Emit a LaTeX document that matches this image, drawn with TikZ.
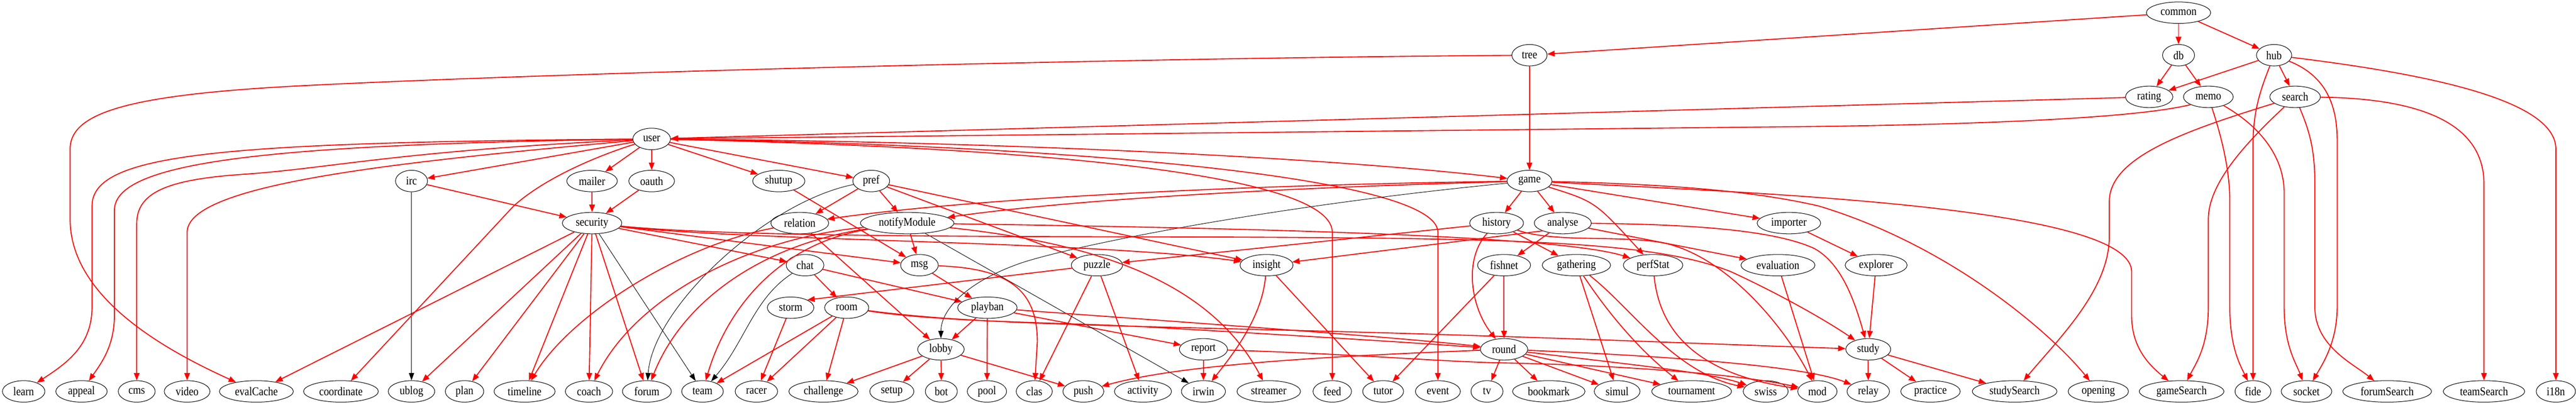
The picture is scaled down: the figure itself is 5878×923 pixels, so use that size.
\documentclass[tikz,border=0pt]{standalone}
\usepackage{fontspec}
\setmainfont{Liberation Serif}[FakeStretch=0.87]
\usetikzlibrary{arrows.meta,shapes.geometric}

\tikzset{
  pkg/.style={ellipse, draw, line width=0.6pt, minimum height=24.5pt, minimum width=36.5pt,
    inner xsep=5.4pt, inner ysep=0pt, font=\fontsize{13.5}{14}\selectfont},
  dep/.style={draw=red, line width=1.1pt, -{Triangle[length=8.5pt,width=6.5pt]}},
  weakdep/.style={draw=black, line width=0.55pt, -{Triangle[length=8.5pt,width=6pt]}},
}

\begin{document}
\begin{tikzpicture}[x=0.5pt,y=-0.5pt]
\useasboundingbox (0,0) rectangle (5878,923);

% top rows
\node[pkg] (common) at (4971,29) {common};
\foreach \n/\x in {tree/3490, db/4971, hub/5189} \node[pkg] (\n) at (\x,126) {\n};
\foreach \n/\x in {rating/4904, memo/5039, search/5237} \node[pkg] (\n) at (\x,221) {\n};
\node[pkg] (user) at (1487,317) {user};
\foreach \n/\x in {irc/939, mailer/1351, oauth/1487, shutup/1777, pref/1988, game/3490}
  \node[pkg] (\n) at (\x,413) {\n};
\foreach \n/\x in {security/1351, relation/1825, notifyModule/2070, history/3415, analyse/3566, importer/4082}
  \node[pkg] (\n) at (\x,509) {\n};
\foreach \n/\x in {chat/1837, msg/2098, puzzle/2503, insight/2890, fishnet/3432, gathering/3597,
  perfStat/3772, evaluation/4057, explorer/4281}
  \node[pkg] (\n) at (\x,605) {\n};
\foreach \n/\x in {storm/1804, room/1932, playban/2253} \node[pkg] (\n) at (\x,702) {\n};
\foreach \n/\x in {lobby/2147, report/2746, round/3432, study/4263} \node[pkg] (\n) at (\x,797) {\n};

% bottom row
\foreach \n/\x in {learn/54, appeal/186, cms/312, video/427, evalCache/585, coordinate/778, ublog/939,
  plan/1060, timeline/1197, coach/1344, forum/1476, team/1603, racer/1726, challenge/1879,
  setup/2035, bot/2148, pool/2252, clas/2360, push/2472, activity/2608, irwin/2746,
  streamer/2895, feed/3040, tutor/3156, event/3281, tv/3393, bookmark/3534, simul/3690,
  tournament/3860, swiss/4029, mod/4147, relay/4263, practice/4405, studySearch/4597,
  opening/4788, gameSearch/4978, fide/5141, socket/5263, forumSearch/5447,
  teamSearch/5668, i18n/5832}
  \node[pkg] (\n) at (\x,893) {\n};

% short edges
\foreach \a/\b in {common/db, common/hub, common/tree, tree/game, db/rating, db/memo,
  hub/rating, hub/search, rating/user, user/irc, user/mailer, user/oauth, user/shutup,
  user/pref, irc/security, mailer/security, oauth/security, shutup/msg, pref/relation,
  pref/notifyModule, pref/puzzle, pref/insight, game/history, game/analyse, game/importer,
  security/evalCache, security/ublog, security/plan, security/timeline, security/coach,
  security/forum, security/chat, security/msg, relation/lobby, notifyModule/msg,
  history/puzzle, history/gathering, analyse/fishnet, analyse/evaluation, importer/explorer,
  chat/room, chat/playban, msg/playban, puzzle/clas, puzzle/activity, insight/tutor,
  fishnet/round, fishnet/tutor, gathering/simul, evaluation/mod, explorer/study,
  storm/racer, room/team, room/racer, room/challenge, playban/lobby, playban/pool,
  playban/report, lobby/challenge, lobby/setup, lobby/bot, lobby/push, report/irwin,
  round/tv, round/bookmark, round/simul, round/tournament, study/relay, study/practice,
  study/studySearch}
  \draw[dep] (\a) -- (\b);
\draw[dep] (analyse.south west) -- (insight);
\draw[dep] (puzzle) -- (storm.north east);
\foreach \a/\b in {irc/ublog, security/team, notifyModule/irwin} \draw[weakdep] (\a) -- (\b);

% long edges, right side
\draw[dep] (hub) .. controls (5160,200) and (5141,250) .. (5141,330) -- (fide);
\draw[dep] (hub) .. controls (5300,170) and (5333,230) .. (5333,320) -- (5333,700) .. controls (5333,780) and (5300,830) .. (socket);
\draw[dep] (hub) .. controls (5550,170) and (5832,230) .. (5832,340) -- (i18n);
\draw[dep] (memo.south west) .. controls (4850,275) and (4400,287) .. (4000,290) -- (user);
\draw[dep] (memo) .. controls (5065,300) and (5088,380) .. (5088,460) -- (5088,700) .. controls (5088,790) and (5110,830) .. (fide);
\draw[dep] (memo) .. controls (5160,290) and (5212,360) .. (5212,440) -- (5212,700) .. controls (5212,790) and (5240,830) .. (socket);
\draw[dep] (search) .. controls (4980,300) and (4813,360) .. (4813,460) -- (4813,540) .. controls (4813,660) and (4700,770) .. (studySearch);
\draw[dep] (search) .. controls (5120,330) and (5039,420) .. (5039,500) -- (5039,700) .. controls (5039,790) and (5010,830) .. (gameSearch);
\draw[dep] (search) .. controls (5270,300) and (5282,340) .. (5282,420) -- (5282,700) .. controls (5282,790) and (5370,830) .. (forumSearch);
\draw[dep] (search) .. controls (5560,225) and (5668,300) .. (5668,420) -- (teamSearch);

% long edges from tree and user
\draw[dep] (tree) .. controls (2600,132) and (1300,165) .. (700,195) .. controls (300,215) and (160,255) .. (160,340) -- (160,500) .. controls (160,680) and (380,800) .. (evalCache);
\draw[dep] (user) .. controls (500,325) and (210,350) .. (210,470) -- (210,700) .. controls (210,790) and (150,830) .. (learn);
\draw[dep] (user) .. controls (600,330) and (261,370) .. (261,480) -- (261,720) .. controls (261,790) and (230,830) .. (appeal);
\draw[dep] (user) .. controls (900,345) and (750,385) .. (550,398) .. controls (380,410) and (312,440) .. (312,510) -- (cms);
\draw[dep] (user) .. controls (900,370) and (427,420) .. (427,530) -- (video);
\draw[dep] (user) .. controls (1380,350) and (1250,400) .. (1172,470) -- (coordinate);
\draw[dep] (user) .. controls (2200,322) and (3000,355) .. (game);
\draw[dep] (user) .. controls (2400,330) and (3281,400) .. (3281,530) -- (event);
\draw[dep] (user) .. controls (2300,335) and (3040,390) .. (3040,530) -- (feed);
\draw[weakdep] (pref) .. controls (1750,460) and (1490,700) .. (forum);

% long edges from game
\draw[dep] (game) .. controls (2800,422) and (2200,455) .. (relation);
\draw[dep] (game) .. controls (2800,432) and (2400,462) .. (notifyModule);
\draw[weakdep] (game) .. controls (2900,470) and (2450,560) .. (2330,600) .. controls (2200,645) and (2147,710) .. (lobby);
\draw[dep] (game) .. controls (3640,460) .. (perfStat);
\draw[dep] (game) .. controls (3800,420) and (4000,435) .. (4150,470) .. controls (4450,560) and (4680,760) .. (opening);
\draw[dep] (game) .. controls (4000,440) and (4864,470) .. (4864,620) -- (4864,720) .. controls (4864,790) and (4900,830) .. (gameSearch);

% middle
\draw[dep] (security) .. controls (1700,550) and (2500,550) .. (insight);
\draw[dep] (security) .. controls (1700,545) and (2500,538) .. (3000,542) .. controls (3550,546) and (3800,560) .. (3950,620) .. controls (4080,680) and (4180,740) .. (study);
\draw[dep] (notifyModule) .. controls (2800,520) and (3550,535) .. (perfStat);
\draw[dep] (notifyModule) .. controls (2500,555) and (2760,640) .. (streamer);
\draw[dep] (notifyModule) .. controls (1700,545) and (1450,680) .. (coach);
\draw[dep] (notifyModule) .. controls (1750,555) and (1560,680) .. (forum);
\draw[dep] (notifyModule) .. controls (1780,555) and (1660,700) .. (team);
\draw[dep] (relation) .. controls (1550,560) and (1300,720) .. (timeline);
\draw[weakdep] (chat) .. controls (1720,680) and (1700,780) .. (team);
\draw[dep] (msg) .. controls (2300,612) and (2367,660) .. (2367,780) -- (clas);
\draw[dep] (insight) .. controls (2880,720) and (2820,800) .. (irwin);
\draw[dep] (history) .. controls (3340,590) and (3355,700) .. (round);
\draw[dep] (history) .. controls (3550,555) and (3700,535) .. (3800,555) .. controls (3950,590) and (4080,760) .. (mod);
\draw[dep] (analyse) .. controls (3900,512) and (4060,530) .. (4140,567) .. controls (4200,600) and (4230,680) .. (study);
\draw[dep] (gathering) .. controls (3660,700) and (3730,790) .. (tournament);
\draw[dep] (gathering) .. controls (3720,700) and (3820,850) .. (swiss);
\draw[dep] (perfStat) .. controls (3790,790) and (3920,860) .. (mod);

% lower rows
\draw[dep] (room) .. controls (2150,735) and (2400,735) .. (2600,745) .. controls (2950,765) and (3200,780) .. (round);
\draw[dep] (room) .. controls (2200,738) and (2500,742) .. (3000,755) .. controls (3500,768) and (3900,785) .. (study);
\draw[dep] (playban) .. controls (2700,735) and (3200,770) .. (round);
\draw[dep] (round) .. controls (3050,812) and (2700,830) .. (push);
\draw[dep] (round) .. controls (3750,835) and (3900,850) .. (swiss);
\draw[dep] (round) .. controls (3800,812) and (4120,835) .. (relay);
\draw[dep] (report) .. controls (3100,808) and (3300,826) .. (3432,828) .. controls (3650,832) and (3950,850) .. (mod);
\end{tikzpicture}
\end{document}
